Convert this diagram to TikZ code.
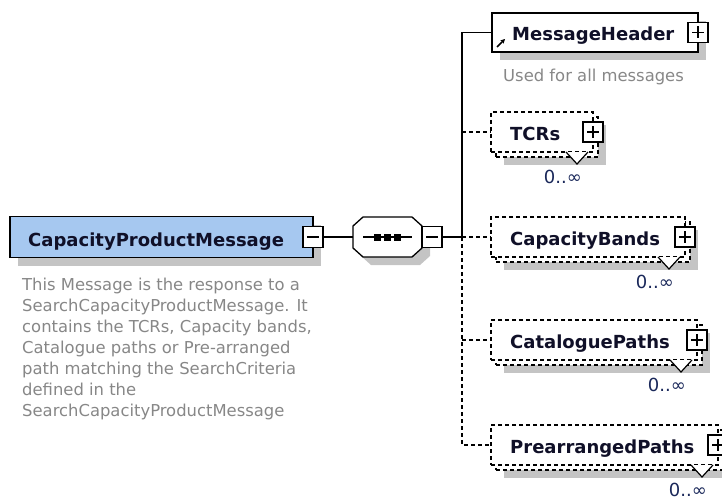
\documentclass[tikz,border=0pt]{standalone}
\usepackage{fontspec}
\setmainfont{DejaVu Sans}
\usetikzlibrary{calc,shadows,arrows.meta}

\definecolor{elemblue}{RGB}{166,200,240}
\definecolor{shgray}{RGB}{196,196,196}
\definecolor{descgray}{RGB}{135,135,135}
\definecolor{labelink}{RGB}{16,16,40}
\definecolor{multink}{RGB}{26,40,90}

% octagon (sequence compositor) around a node, shifted by (#2,#3)
\newcommand\octpath[3]{%
  ($(#1.north west)+(10+#2,#3)$) -- ($(#1.north east)+(-10+#2,#3)$) --
  ($(#1.north east)+(#2,9+#3)$) -- ($(#1.south east)+(#2,-9+#3)$) --
  ($(#1.south east)+(-10+#2,#3)$) -- ($(#1.south west)+(10+#2,#3)$) --
  ($(#1.south west)+(#2,-9+#3)$) -- ($(#1.north west)+(#2,9+#3)$) -- cycle}

\begin{document}
\begin{tikzpicture}[x=1pt,y=-1pt,
  box/.style={rectangle, draw=black, line width=1.3pt, inner sep=0pt, outer sep=0pt},
  shadowed/.style={drop shadow={shadow xshift=8pt, shadow yshift=-8pt, fill=shgray, opacity=1}},
  elem/.style={box, fill=white, shadowed},
  mainelem/.style={box, fill=elemblue, line width=1.4pt, shadowed},
  opt/.style={dash pattern=on 4pt off 3pt},
  optfront/.style={box, opt, fill=white},
  optback/.style={box, opt, fill=white, shadowed},
  toggle/.style={rectangle, draw=black, fill=white, line width=1.1pt, minimum width=20pt,
    minimum height=20pt, inner sep=0pt, outer sep=0pt},
  tog/.style={line width=1.3pt},
  conn/.style={line width=1.3pt},
  chev/.style={line width=1.2pt, fill=white},
  lbl/.style={font=\fontsize{18}{20}\selectfont\bfseries, text=labelink, inner sep=0pt, anchor=base west},
  desc/.style={font=\fontsize{16.4}{21}\selectfont, text=descgray, inner sep=0pt, align=left},
  mult/.style={font=\fontsize{18}{20}\selectfont, text=multink, inner sep=0pt, anchor=base east},
  dotsq/.style={rectangle, fill=black, minimum size=7pt, inner sep=0pt}
]
\useasboundingbox (0,0) rectangle (722,500);

% ---- root element ----
\node[mainelem, minimum width=303pt, minimum height=41pt, anchor=west] (cpm) at (10,237) {};
\node[lbl] (cpmtxt) at ($(cpm.west)+(18,9)$) {CapacityProductMessage};
\node[toggle, minimum height=21pt] (cpmtog) at (cpm.east) {};
\draw[tog] ($(cpmtog.west)+(4,0)$) -- ($(cpmtog.east)+(-4,0)$);
\node[desc, anchor=north west] (cpmdesc) at (22,278) {This Message is the response to a\\
SearchCapacityProductMessage. It\\
contains the TCRs, Capacity bands,\\
Catalogue paths or Pre-arranged\\
path matching the SearchCriteria\\
defined in the\\
SearchCapacityProductMessage};

% ---- sequence compositor ----
\node[rectangle, minimum width=69pt, minimum height=40pt, inner sep=0pt, outer sep=0pt] (seq) at (387.5,237) {};
\fill[shgray] \octpath{seq}{8}{8};
\draw[fill=white, line width=1.3pt] \octpath{seq}{0}{0};
\draw[line width=1.3pt] ($(seq.west)+(10,0)$) -- ($(seq.east)+(-10,0)$);
\node[dotsq] (q1) at ($(seq.center)+(-10,0)$) {};
\node[dotsq] (q2) at (seq.center) {};
\node[dotsq] (q3) at ($(seq.center)+(10,0)$) {};
\node[toggle, minimum height=21pt, anchor=west] (seqtog) at (seq.east) {};
\draw[tog] ($(seqtog.west)+(4,0)$) -- ($(seqtog.east)+(-4,0)$);

\coordinate (bus) at (462,237);
\draw[conn] (cpmtog.east) -- (seq.west);
\draw[conn] (seqtog.east) -- (bus);

% ---- MessageHeader ----
\node[elem, minimum width=206pt, minimum height=39pt, anchor=north west] (mh) at (492,13) {};
\node[lbl] (mhtxt) at ($(mh.west)+(20,8)$) {MessageHeader};
\node[toggle] (mhtog) at (mh.east) {};
\draw[tog] ($(mhtog.west)+(4,0)$) -- ($(mhtog.east)+(-4,0)$)
           ($(mhtog.north)+(0,4)$) -- ($(mhtog.south)+(0,-4)$);
\draw[line width=1.5pt, -{Stealth[length=4.5pt,width=4.5pt]}] ($(mh.south west)+(5,-5)$) -- ++(8,-8);
\node[desc, anchor=base west] (mhdesc) at (503,82) {Used for all messages};

% ---- TCRs ----
\node[optback, minimum width=102pt, minimum height=40pt, anchor=north west] (tcrB) at (496,117) {};
\node[optfront, minimum width=102pt, minimum height=40pt, anchor=north west] (tcr) at (491,112) {};
\node[lbl] (tcrtxt) at ($(tcr.west)+(19,8)$) {TCRs};
\node[toggle] (tcrtog) at (tcr.east) {};
\draw[tog] ($(tcrtog.west)+(4,0)$) -- ($(tcrtog.east)+(-4,0)$)
           ($(tcrtog.north)+(0,4)$) -- ($(tcrtog.south)+(0,-4)$);
\filldraw[chev] ($(tcr.south east)+(-27,0)$) -- ++(11,12) -- ++(11,-12);
\node[mult] (tcrm) at ($(tcr.south east)+(-11,31.5)$) {0..∞};

% ---- CapacityBands ----
\node[optback, minimum width=194pt, minimum height=40pt, anchor=north west] (cbB) at (496,222) {};
\node[optfront, minimum width=194pt, minimum height=40pt, anchor=north west] (cb) at (491,217) {};
\node[lbl] (cbtxt) at ($(cb.west)+(19,8)$) {CapacityBands};
\node[toggle] (cbtog) at (cb.east) {};
\draw[tog] ($(cbtog.west)+(4,0)$) -- ($(cbtog.east)+(-4,0)$)
           ($(cbtog.north)+(0,4)$) -- ($(cbtog.south)+(0,-4)$);
\filldraw[chev] ($(cb.south east)+(-27,0)$) -- ++(11,12) -- ++(11,-12);
\node[mult] (cbm) at ($(cb.south east)+(-11,31.5)$) {0..∞};

% ---- CataloguePaths ----
\node[optback, minimum width=206pt, minimum height=40pt, anchor=north west] (cpB) at (496,325) {};
\node[optfront, minimum width=206pt, minimum height=40pt, anchor=north west] (cp) at (491,320) {};
\node[lbl] (cptxt) at ($(cp.west)+(19,8)$) {CataloguePaths};
\node[toggle] (cptog) at (cp.east) {};
\draw[tog] ($(cptog.west)+(4,0)$) -- ($(cptog.east)+(-4,0)$)
           ($(cptog.north)+(0,4)$) -- ($(cptog.south)+(0,-4)$);
\filldraw[chev] ($(cp.south east)+(-27,0)$) -- ++(11,12) -- ++(11,-12);
\node[mult] (cpm2) at ($(cp.south east)+(-11,31.5)$) {0..∞};

% ---- PrearrangedPaths ----
\node[optback, minimum width=227pt, minimum height=40pt, anchor=north west] (ppB) at (496,430) {};
\node[optfront, minimum width=227pt, minimum height=40pt, anchor=north west] (pp) at (491,425) {};
\node[lbl] (pptxt) at ($(pp.west)+(19,8)$) {PrearrangedPaths};
\node[toggle] (pptog) at (pp.east) {};
\draw[tog] ($(pptog.west)+(4,0)$) -- ($(pptog.east)+(-4,0)$)
           ($(pptog.north)+(0,4)$) -- ($(pptog.south)+(0,-4)$);
\filldraw[chev] ($(pp.south east)+(-27,0)$) -- ++(11,12) -- ++(11,-12);
\node[mult] (ppm) at ($(pp.south east)+(-11,31.5)$) {0..∞};

% ---- connectors from the sequence bus ----
\draw[conn] (bus) |- (mh.west);
\draw[conn, opt] (bus) |- (pp.west);
\draw[conn, opt] (bus |- tcr.west) -- (tcr.west);
\draw[conn, opt] (bus) -- (cb.west);
\draw[conn, opt] (bus |- cp.west) -- (cp.west);
\end{tikzpicture}
\end{document}
